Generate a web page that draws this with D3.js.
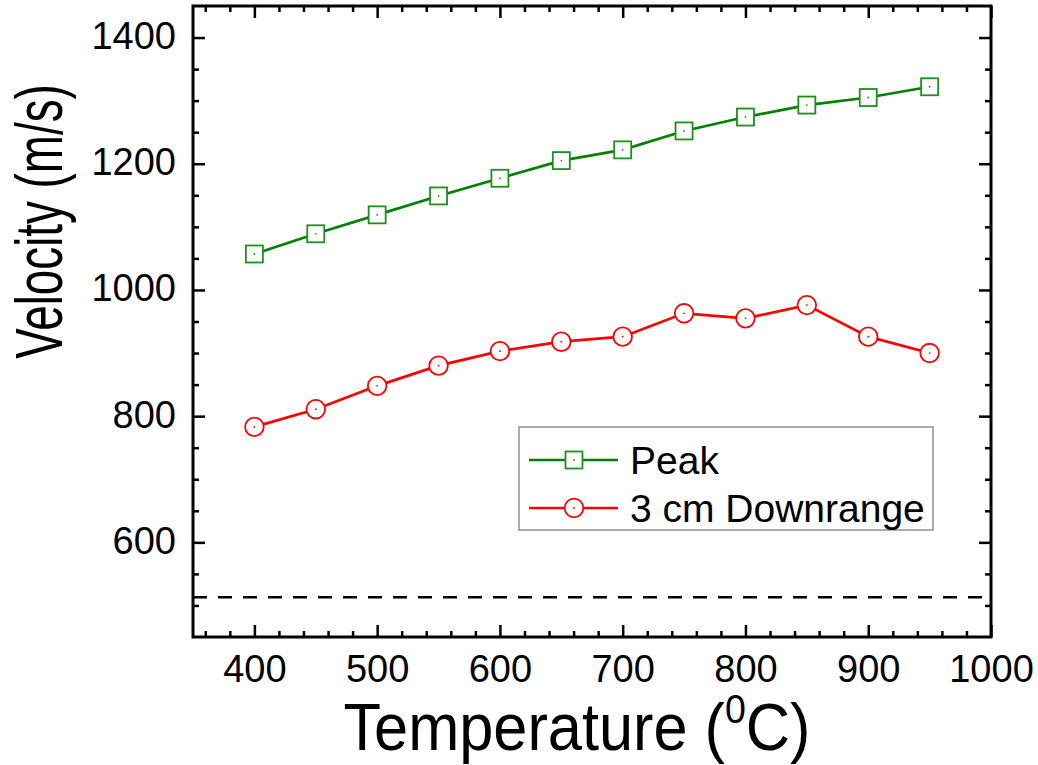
<!DOCTYPE html>
<html lang="en">
<head>
    <meta charset="UTF-8">
    <title>Velocity vs Temperature</title>
    <script src="https://d3js.org/d3.v7.min.js"></script>
    <style>
        body { margin: 0; background: #fff; }
        svg { display: block; font-family: "Liberation Sans", Arial, sans-serif; }
        .frame { fill: none; stroke: #000; stroke-width: 3; }
        .axis path { display: none; }
        .axis line { stroke: #000; stroke-width: 2.5; }
        .axis text { fill: #000; font-size: 38px; font-family: "Liberation Sans", Arial, sans-serif; }
    </style>
</head>
<body>
<div id="chart"></div>
<script>
    // data
    var temperatures = [400, 450, 500, 550, 600, 650, 700, 750, 800, 850, 900, 950];
    var peakVelocity = [1057, 1089, 1119, 1149, 1177, 1205, 1222, 1252, 1274, 1293, 1305, 1322];
    var downrangeVelocity = [783, 811, 848, 880, 903, 918, 926, 963, 955, 976, 926, 900];
    var seriesNames = ["Peak", "3 cm Downrange"];
    var referenceVelocity = 513; // dashed line

    var xMajorTicks = [400, 500, 600, 700, 800, 900, 1000];
    var yMajorTicks = [600, 800, 1000, 1200, 1400];

    var W = 1038, H = 765;
    // plot frame (note: "top" is reserved on window, so use other names)
    var pLeft = 193, pRight = 991, pTop = 6, pBottom = 637;

    var svg = d3.select("#chart").append("svg")
        .attr("width", W)
        .attr("height", H);

    var x = d3.scaleLinear().domain([350, 1000]).range([pLeft, pRight]);
    var y = d3.scaleLinear().domain([450, 1450]).range([pBottom, pTop]);

    var xMinor = d3.range(360, 1000, 20).filter(function (d) { return d % 100 !== 0; });
    var yMinor = d3.range(500, 1450, 50).filter(function (d) { return d % 200 !== 0; });

    // axes, ticks pointing inward on all four sides
    function addAxis(axisFn, scale, pos, major, minor, labels) {
        var g = svg.append("g").attr("class", "axis").attr("transform", pos);
        g.call(axisFn(scale).tickValues(minor).tickSize(-6).tickFormat(""));
        var g2 = svg.append("g").attr("class", "axis").attr("transform", pos);
        g2.call(axisFn(scale).tickValues(major).tickSize(-12).tickFormat(labels ? d3.format("d") : ""));
        return g2;
    }

    var xb = addAxis(d3.axisBottom, x, "translate(0," + pBottom + ")", xMajorTicks, xMinor, true);
    xb.selectAll("text").attr("y", 45).attr("dy", 0);
    addAxis(d3.axisTop, x, "translate(0," + pTop + ")", xMajorTicks, xMinor, false);
    var yl = addAxis(d3.axisLeft, y, "translate(" + pLeft + ",0)", yMajorTicks, yMinor, true);
    yl.selectAll("text").attr("x", -17).attr("dy", 11);
    addAxis(d3.axisRight, y, "translate(" + pRight + ",0)", yMajorTicks, yMinor, false);

    // dashed reference line
    svg.append("line")
        .attr("x1", pLeft).attr("x2", pRight)
        .attr("y1", y(referenceVelocity)).attr("y2", y(referenceVelocity))
        .attr("stroke", "#000")
        .attr("stroke-width", 2.3)
        .attr("stroke-dasharray", "14,11");

    var peak = temperatures.map(function (t, i) { return [t, peakVelocity[i]]; });
    var down = temperatures.map(function (t, i) { return [t, downrangeVelocity[i]]; });

    var line = d3.line()
        .x(function (d) { return x(d[0]); })
        .y(function (d) { return y(d[1]); });

    svg.append("path").datum(peak)
        .attr("d", line).attr("fill", "none")
        .attr("stroke", "#008000").attr("stroke-width", 2.7);
    svg.append("path").datum(down)
        .attr("d", line).attr("fill", "none")
        .attr("stroke", "#ff0000").attr("stroke-width", 2.7);

    function square(sel, cx, cy) {
        sel.append("rect")
            .attr("x", cx - 8.5).attr("y", cy - 8.5)
            .attr("width", 17).attr("height", 17)
            .attr("fill", "#fff").attr("stroke", "#1f8f1f").attr("stroke-width", 1.8);
        sel.append("circle").attr("cx", cx).attr("cy", cy).attr("r", 0.9).attr("fill", "#1f8f1f");
    }
    function ring(sel, cx, cy) {
        sel.append("circle")
            .attr("cx", cx).attr("cy", cy).attr("r", 9.3)
            .attr("fill", "#fff").attr("stroke", "#ff0000").attr("stroke-width", 1.8);
        sel.append("circle").attr("cx", cx).attr("cy", cy).attr("r", 0.9).attr("fill", "#ff0000");
    }

    var markers = svg.append("g");
    peak.forEach(function (d) { square(markers, x(d[0]), y(d[1])); });
    down.forEach(function (d) { ring(markers, x(d[0]), y(d[1])); });

    // frame
    svg.append("rect").attr("class", "frame")
        .attr("x", pLeft).attr("y", pTop)
        .attr("width", pRight - pLeft).attr("height", pBottom - pTop);

    // legend
    var lg = svg.append("g");
    lg.append("rect")
        .attr("x", 519).attr("y", 427).attr("width", 414).attr("height", 103)
        .attr("fill", "#fff").attr("stroke", "#808080").attr("stroke-width", 1.3);
    var rows = [460, 508];
    var colors = ["#008000", "#ff0000"];
    rows.forEach(function (ry, i) {
        lg.append("line")
            .attr("x1", 529).attr("x2", 618).attr("y1", ry).attr("y2", ry)
            .attr("stroke", colors[i]).attr("stroke-width", 2.5);
        if (i === 0) square(lg, 574, ry); else ring(lg, 574, ry);
        lg.append("text")
            .attr("x", 630).attr("y", ry + 14)
            .style("font-size", "39px")
            .text(seriesNames[i]);
    });

    // axis titles
    var xt = svg.append("text")
        .attr("transform", "translate(577,750) scale(0.915,1)")
        .attr("text-anchor", "middle")
        .style("font-size", "67px");
    xt.append("tspan").text("Temperature (");
    xt.append("tspan").attr("dy", -27).style("font-size", "41px").text("0");
    xt.append("tspan").attr("dy", 27).text("C)");

    svg.append("text")
        .attr("transform", "translate(62,221.5) rotate(-90) scale(0.683,1)")
        .attr("text-anchor", "middle")
        .style("font-size", "67px")
        .text("Velocity (m/s)");
</script>
</body>
</html>
